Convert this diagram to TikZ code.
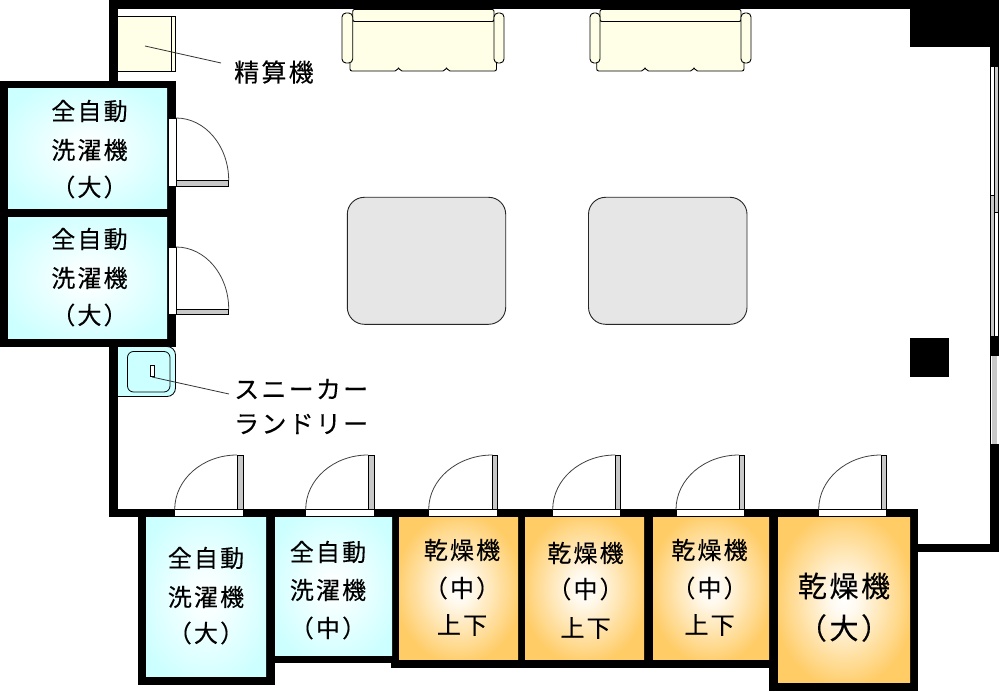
\documentclass[tikz,border=0pt]{standalone}
\usepackage{fontspec}
\newfontfamily\jp[LetterSpace=9,FakeBold=0.25]{Noto Sans CJK JP}
\usetikzlibrary{calc}
\definecolor{cream}{HTML}{FFFFE8}
\definecolor{aqua}{HTML}{CCFFFF}
\definecolor{amber}{HTML}{FFCC66}
\definecolor{panel}{HTML}{C8C8C8}
\definecolor{tablegray}{HTML}{E6E6E6}
\pgfdeclareradialshading{aquaglow}{\pgfpointorigin}{color(0bp)=(white);color(6bp)=(white!85!aqua);color(30bp)=(aqua);color(100bp)=(aqua)}
\pgfdeclareradialshading{amberglow}{\pgfpointorigin}{color(0bp)=(white);color(5bp)=(white!90!amber);color(27bp)=(amber);color(100bp)=(amber)}
\tikzset{
  wall/.style={fill=black,draw=none},
  aquaroom/.style={shading=aquaglow,draw=none},
  amberroom/.style={shading=amberglow,draw=none},
  gap/.style={fill=white,draw=black,line width=0.8pt},
  leaf/.style={fill=panel,draw=black,line width=0.8pt},
  swing/.style={draw=black!75,line width=0.8pt},
  label/.style={font=\jp\fontsize{24}{24}\selectfont,inner sep=0pt,text=black},
  biglabel/.style={font=\jp\fontsize{29}{29}\selectfont,inner sep=0pt,text=black},
  sidelabel/.style={font=\jp\fontsize{25}{25}\selectfont,inner sep=0pt,text=black,anchor=west},
  leader/.style={draw=black!80,line width=0.8pt},
  furn/.style={fill=cream,draw=black,line width=0.9pt,rounded corners=2pt},
  tablebox/.style={fill=tablegray,draw=black!85,line width=0.9pt,rounded corners=17pt},
}
% door opening into the room from the bottom wall: x left, x panel left, x right
\newcommand{\bottomdoor}[3]{%
  \draw[gap] (#1,509.5) rectangle (#3,516);
  \draw[leaf] (#2,455) rectangle (#3,509.5);
  \draw[swing] (#1,509.5) arc[start angle=180,end angle=270,x radius=#2-#1,y radius=54.5];
}
% door opening from the left: y top, y panel top, y bottom
\newcommand{\leftdoor}[3]{%
  \draw[gap] (168,#1) rectangle (176,#3);
  \draw[leaf] (176,#2) rectangle (228.7,#3);
  \draw[swing] (176,#1) arc[start angle=-90,end angle=0,x radius=52.7,y radius=#2-#1];
}
\newcommand{\sofa}[7]{%
  % #1 arm left, #2 back left, #3 body left, #4 body right, #5 back right, #6 notch1, #7 notch2
  \draw[furn] (#3,21) -- (#3,71) -- (#6-1.5,71) -- (#6,67) -- (#6+1.5,71) -- (#7-1.5,71) -- (#7,67) -- (#7+1.5,71) -- (#4,71) -- (#4,21) -- cycle;
  \draw[furn] (#2,9.4) -- (#2,21.5) -- (#5,21.5) -- (#5,9.4) -- cycle;
  \draw[furn,rounded corners=4pt] (#1,13) rectangle (#2,63);
  \draw[furn,rounded corners=4pt] (#5,13) rectangle (#5+10,63);
}
\begin{document}
\begin{tikzpicture}[x=1pt,y=-1pt]
\useasboundingbox (0,0) rectangle (1000,692);
\fill[white] (0,0) rectangle (1000,692);
% walls
\fill[wall] (109,0) rectangle (999,9);
\fill[wall] (109,0) rectangle (118,85);
\fill[wall] (109,340) rectangle (118,516);
\fill[wall] (910,0) rectangle (999,47);
\fill[wall] (990,0) rectangle (999,67);
\fill[wall] (990,336) rectangle (999,356);
\fill[wall] (990,444) rectangle (999,552);
\fill[wall] (910,544) rectangle (999,552);
\fill[wall] (109,509) rectangle (918,517);
\fill[wall] (0,81) rectangle (176,346.5);
\fill[wall] (138,509) rectangle (275,685);
\fill[wall] (275,655) rectangle (399,663);
\fill[wall] (391,509) rectangle (778,667.7);
\fill[wall] (769,509) rectangle (918,691);
% windows
\fill[panel] (990.5,195) rectangle (994.5,336);
\fill[panel] (994.5,67) rectangle (998.5,212);
\draw[black,line width=0.8pt] (990.5,67) -- (990.5,336) (994.5,67) -- (994.5,336) (998.5,67) -- (998.5,336);
\draw[black,line width=0.8pt] (990.5,195) -- (994.5,195) (994.5,212) -- (998.5,212);
\fill[white] (990.5,356) rectangle (998.5,444);
\fill[panel] (992,356) rectangle (997.2,444);
\draw[black,line width=0.8pt] (990.5,356) -- (990.5,444);
% pillar
\fill[wall] (910,338) rectangle (949,377);
% rooms
\shade[aquaroom] (8,89) rectangle (167,209);
\shade[aquaroom] (8,218) rectangle (167,338);
\shade[aquaroom] (146,517) rectangle (266,676);
\shade[aquaroom] (275,517) rectangle (392,655);
\shade[amberroom] (399,517) rectangle (518,659);
\shade[amberroom] (525,517) rectangle (644,659);
\shade[amberroom] (653,517) rectangle (769,659);
\shade[amberroom] (778,517) rectangle (910,682);
% doors
\leftdoor{118}{180.5}{186}
\leftdoor{247}{309}{314}
\bottomdoor{174.7}{237}{243}
\bottomdoor{305.7}{368}{374}
\bottomdoor{428.7}{492.5}{497.5}
\bottomdoor{552.7}{615.3}{620.5}
\bottomdoor{676}{739}{744.5}
\bottomdoor{818.7}{881}{886}
% sofas
\sofa{342}{352.7}{350}{496.5}{494}{398.5}{446.5}
\sofa{590}{600}{596.7}{744}{741}{645}{694}
% tables
\draw[tablebox] (347.3,197.3) rectangle (505.7,324.3);
\draw[tablebox] (588.5,197.3) rectangle (747,324.3);
% pay machine
\fill[cream] (118,16) rectangle (175.3,71.5);
\draw[black,line width=0.8pt] (118,16) -- (175.3,16) -- (175.3,71.5) -- (118,71.5) (171.3,16) -- (171.3,71.5);
% sneaker laundry
\draw[fill=aqua,draw=black,line width=0.8pt] (118,346.5) -- (167,346.5) arc[start angle=-90,end angle=0,radius=8.5] -- (175.5,388) arc[start angle=0,end angle=90,radius=8.5] -- (118,396.5);
\draw[black,line width=0.8pt,rounded corners=6pt] (127.5,351.5) rectangle (170,392);
\draw[black,fill=white,line width=0.8pt] (150,365) rectangle (154,376);
% leaders
\coordinate (payfrom) at (145,46);
\coordinate (payto) at (221,63);
\coordinate (snfrom) at (152,377);
\coordinate (snto) at (229,394);
\draw[leader] (payfrom) -- (payto);
\draw[leader] (snfrom) -- (snto);
% labels
\node[sidelabel] (pay) at (234,72) {精算機};
\node[sidelabel] (sn1) at (234,389) {スニーカー};
\node[sidelabel] (sn2) at (234,424) {ランドリー};
\node[label] (a1) at (89.5,111) {全自動};
\node[label] (a2) at (89.5,150) {洗濯機};
\node[label] (a3) at (89.5,187) {（大）};
\node[label] (b1) at (89.5,239) {全自動};
\node[label] (b2) at (89.5,278) {洗濯機};
\node[label] (b3) at (89.5,315) {（大）};
\node[label] (c1) at (206,558) {全自動};
\node[label] (c2) at (206,597) {洗濯機};
\node[label] (c3) at (206,633) {（大）};
\node[label] (d1) at (328,552) {全自動};
\node[label] (d2) at (328,590) {洗濯機};
\node[label] (d3) at (328,628) {（中）};
\node[label] (e1) at (462,550) {乾燥機};
\node[label] (e2) at (462,588) {（中）};
\node[label] (e3) at (462,625) {上下};
\node[label] (f1) at (585.5,553) {乾燥機};
\node[label] (f2) at (585.5,589) {（中）};
\node[label] (f3) at (585.5,628) {上下};
\node[label] (g1) at (709.5,550) {乾燥機};
\node[label] (g2) at (709.5,588) {（中）};
\node[label] (g3) at (709.5,625) {上下};
\node[biglabel] (h1) at (844,586) {乾燥機};
\node[biglabel] (h2) at (844,628) {（大）};
\end{tikzpicture}
\end{document}
